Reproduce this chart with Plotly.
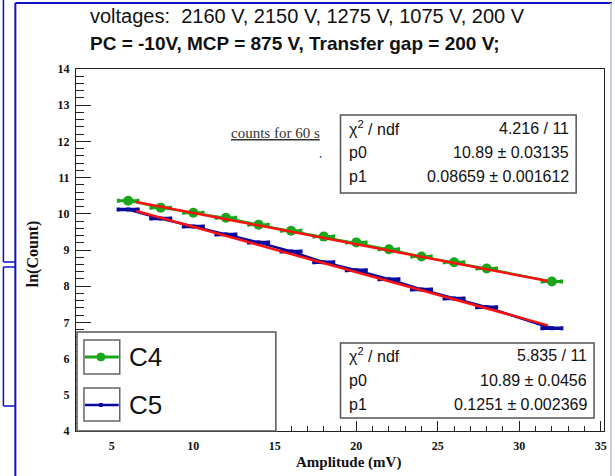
import plotly.graph_objects as go

# ---------------- data ----------------
amp_c4 = [6, 8, 10, 12, 14, 16, 18, 20, 22, 24, 26, 28, 32]
ln_c4 = [10.36, 10.17, 10.03, 9.89, 9.70, 9.53, 9.37, 9.21, 9.02, 8.82, 8.66, 8.49, 8.13]
amp_c5 = [6, 8, 10, 12, 14, 16, 18, 20, 22, 24, 26, 28, 32]
ln_c5 = [10.12, 9.87, 9.65, 9.43, 9.21, 8.96, 8.66, 8.44, 8.19, 7.91, 7.66, 7.42, 6.84]
amp_err = [0.6] * 13

fit_c4 = {"chi2": "4.216 / 11", "p0": 10.89, "p0e": "0.03135", "p1": 0.08659, "p1e": "0.001612"}
fit_c5 = {"chi2": "5.835 / 11", "p0": 10.89, "p0e": "0.0456", "p1": 0.1251, "p1e": "0.002369"}
fit_range = [6.5, 31.75]

x_ticks = [5, 10, 15, 20, 25, 30, 35]
y_ticks = [4, 5, 6, 7, 8, 9, 10, 11, 12, 13, 14]

GREEN = "#1aa61a"
BLUE = "#0a0a9c"
RED = "#ff1010"

W, H = 615, 476
L, R, T, B = 76, 607, 69, 431


def px(x):
    return (x - L) / (R - L)


def py(y):
    return (B - y) / (B - T)


fig = go.Figure()

for xs, ys, col, msym, msize, lw, ew in [
    (amp_c4, ln_c4, GREEN, "circle", 10, 2, 3),
    (amp_c5, ln_c5, BLUE, "square", 4, 2.5, 3.5),
]:
    fig.add_trace(go.Scatter(
        x=xs, y=ys, mode="lines+markers", showlegend=False,
        line=dict(color=col, width=lw),
        marker=dict(color=col, symbol=msym, size=msize),
        error_x=dict(type="data", array=amp_err, color=col, thickness=ew, width=2),
    ))

for f in (fit_c4, fit_c5):
    xf = fit_range
    yf = [f["p0"] - f["p1"] * v for v in xf]
    fig.add_trace(go.Scatter(x=xf, y=yf, mode="lines", showlegend=False,
                             line=dict(color=RED, width=2.5)))

shapes = []
ann = []


def rect(x0, y0, x1, y1, color="#555", width=1.5, fill="white", layer="above"):
    shapes.append(dict(type="rect", xref="paper", yref="paper",
                       x0=px(x0), x1=px(x1), y0=py(y1), y1=py(y0),
                       line=dict(color=color, width=width), fillcolor=fill, layer=layer))


def line(x0, y0, x1, y1, color, width):
    shapes.append(dict(type="line", xref="paper", yref="paper",
                       x0=px(x0), x1=px(x1), y0=py(y0), y1=py(y1),
                       line=dict(color=color, width=width), layer="above"))


def text(x, y, s, size, anchor="left", family="Liberation Sans", color="#111", weight="normal", angle=0):
    ann.append(dict(xref="paper", yref="paper", x=px(x), y=py(y), text=s, showarrow=False,
                    xanchor=anchor, yanchor="middle", textangle=angle,
                    font=dict(family=family, size=size, color=color, weight=weight)))


# slide decorations
line(15, 3, 615, 3, "#1010c8", 2)
line(15, 3, 15, 476, "#1010c8", 2)
line(614, 3, 614, 476, "#b8b8e8", 1.5)
line(3, 0, 3, 262, "#1010c8", 1.5)
line(3, 262, 15, 262, "#1010c8", 1.5)
line(3, 267, 15, 267, "#1010c8", 1.5)
line(3, 267, 3, 406, "#1010c8", 1.5)
line(3, 406, 15, 406, "#1010c8", 1.5)

text(88, 16, "voltages:  2160 V, 2150 V, 1275 V, 1075 V, 200 V", 20)
text(88, 43, "PC = -10V, MCP = 875 V, Transfer gap = 200 V;", 19, weight="bold")

# stats boxes
for (bx0, by0, bx1, by1, rows, f) in [
    (342, 115, 579, 193, (128, 152, 176), fit_c4),
    (342, 343, 597, 418, (355, 380, 404), fit_c5),
]:
    rect(bx0, by0, bx1, by1)
    labels = ["\u03c7<sup>2</sup> / ndf", "p0", "p1"]
    vals = [f["chi2"], f"{f['p0']} \u00b1 {f['p0e']}", f"{f['p1']} \u00b1 {f['p1e']}"]
    for yy, lab, v in zip(rows, labels, vals):
        text(bx0 + 7, yy, lab, 16)
        text(bx1 - 5, yy, v, 16, anchor="right")

# legend
rect(77, 332, 277, 431)
rect(84, 340, 120, 374, color="#666", width=1.5)
rect(84, 388, 120, 421, color="#666", width=1.5)
line(85, 357, 119, 357, GREEN, 3)
shapes.append(dict(type="circle", xref="paper", yref="paper",
                   x0=px(97), x1=px(105), y0=py(361), y1=py(353),
                   fillcolor=GREEN, line=dict(color=GREEN, width=1), layer="above"))
line(85, 405, 119, 405, BLUE, 2.5)
shapes.append(dict(type="rect", xref="paper", yref="paper",
                   x0=px(99.5), x1=px(102.5), y0=py(406.5), y1=py(403.5),
                   fillcolor=BLUE, line=dict(color=BLUE, width=1), layer="above"))
text(127, 357, "C4", 26)
text(127, 405, "C5", 26)

# note
text(277, 133, "<u>counts for 60 s</u>", 15, anchor="center", family="Liberation Serif", color="#333")
shapes.append(dict(type="circle", xref="paper", yref="paper",
                   x0=px(321), x1=px(323), y0=py(158), y1=py(156),
                   fillcolor="#3b5bd0", line=dict(width=0), layer="above"))

# axis titles
text(33, 254, "ln(Count)", 16, anchor="center", family="Liberation Serif", weight="bold", angle=-90)
text(350, 462, "Amplitude (mV)", 15, anchor="center", family="Liberation Serif", weight="bold")

tickfont = dict(family="Liberation Serif", size=12, color="#111", weight="bold")
fig.update_layout(
    width=W, height=H,
    margin=dict(l=L, r=W - R, t=T, b=H - B),
    paper_bgcolor="white", plot_bgcolor="white",
    shapes=shapes, annotations=ann,
    xaxis=dict(range=[2.8, 35.2], tickvals=x_ticks, ticks="inside", ticklen=10, tickcolor="#222",
               minor=dict(dtick=1, ticks="inside", ticklen=5, tickcolor="#222"),
               showgrid=False, zeroline=False, showline=True, linecolor="#222", linewidth=1,
               mirror=True, tickfont=tickfont, ticklabelstandoff=4),
    yaxis=dict(range=[4, 14], tickvals=y_ticks, ticks="inside", ticklen=15, tickcolor="#222",
               minor=dict(dtick=0.2, ticks="inside", ticklen=8, tickcolor="#222"),
               showgrid=False, zeroline=False, showline=True, linecolor="#222", linewidth=1,
               mirror=True, tickfont=tickfont, ticklabelstandoff=3),
)

fig.write_html("out.html")
